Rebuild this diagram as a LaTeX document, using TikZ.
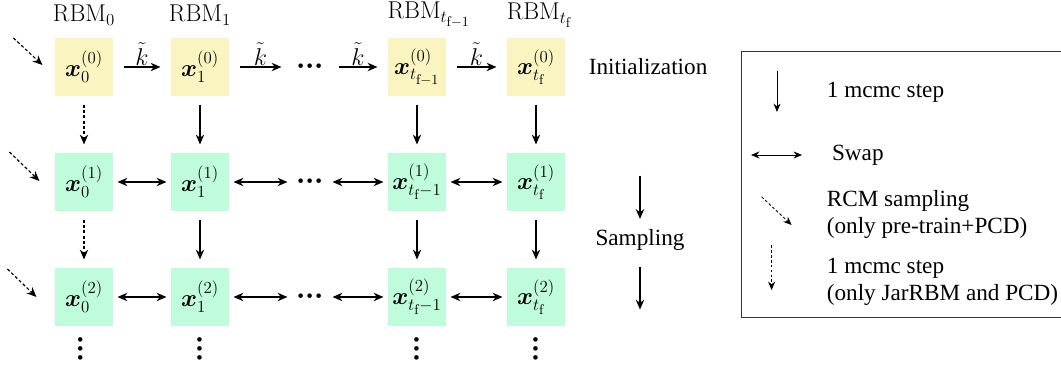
\documentclass[tikz,border=0pt]{standalone}
\usepackage{amsmath,amssymb}
\usepackage{fontspec}
\newfontfamily\legfont{Liberation Serif}
\usetikzlibrary{calc,positioning,arrows.meta}
\definecolor{initcol}{RGB}{250,245,192}
\definecolor{sampcol}{RGB}{191,252,219}
\newcommand{\rowdots}{$\boldsymbol{\mathord{\cdot}\mathord{\cdot}\mathord{\cdot}}$}
\newcommand{\colvdots}{\rotatebox{90}{\rowdots}}
\tikzset{
node distance=2.9cm, % column spacing
init/.style={fill=initcol, minimum size=1.45cm, inner sep=0pt, font=\LARGE},
samp/.style={fill=sampcol, minimum size=1.45cm, inner sep=0pt, font=\LARGE},
hdots/.style={minimum width=0.9cm, inner sep=0pt, font=\huge},
vdotsn/.style={inner sep=0pt, font=\huge},
rbm/.style={font=\LARGE},
klab/.style={above, font=\LARGE, inner sep=1pt},
txt/.style={font=\legfont\fontsize{16.5}{19}\selectfont, align=left},
}
\tikzset{
    between/.style args={#1 and #2}{
         at = ($(#1)!0.5!(#2)$)
    }
}
\tikzset{
mcmc/.style={->, shorten <=0.2cm, shorten >=0.2cm},
mcmcd/.style={mcmc, dash pattern=on 2.2pt off 1.6pt},
kstep/.style={->, shorten <=0.25cm, shorten >=0.25cm},
swap/.style={<->, shorten <=0.1cm, shorten >=0.1cm},
rcm/.style={->, dash pattern=on 2.2pt off 1.6pt},
legarr/.style={line width=0.6pt, >={Stealth[length=6pt,width=5pt]}},
}

\begin{document}
\begin{tikzpicture}[on grid, line width=0.8pt, >={Stealth[length=7pt,width=6pt]}]
   \useasboundingbox (0,0) rectangle (26.525,9.2);
   % row 0: initialization
   \node[init] (x00) at (2.1,7.525) {$\boldsymbol{x}_0^{(0)}$};
   \node[init] (x10) [right=2.9cm of x00] {$\boldsymbol{x}_1^{(0)}$};
   \node[hdots] (d0) [right=2.75cm of x10] {\rowdots};
   \node[init] (xa0) [right=2.675cm of d0] {$\boldsymbol{x}_{t_{\mathrm{f}-1}}^{(0)}$};
   \node[init] (xb0) [right=2.975cm of xa0] {$\boldsymbol{x}_{t_{\mathrm{f}}}^{(0)}$};
   % row 1
   \node[samp] (x01) [below=2.875cm of x00] {$\boldsymbol{x}_0^{(1)}$};
   \node[samp] (x11) [below=2.875cm of x10] {$\boldsymbol{x}_1^{(1)}$};
   \node[hdots] (d1) [below=2.875cm of d0] {\rowdots};
   \node[samp] (xa1) [below=2.875cm of xa0] {$\boldsymbol{x}_{t_{\mathrm{f}}-1}^{(1)}$};
   \node[samp] (xb1) [below=2.875cm of xb0] {$\boldsymbol{x}_{t_{\mathrm{f}}}^{(1)}$};
   % row 2
   \node[samp] (x02) [below=2.875cm of x01] {$\boldsymbol{x}_0^{(2)}$};
   \node[samp] (x12) [below=2.875cm of x11] {$\boldsymbol{x}_1^{(2)}$};
   \node[hdots] (d2) [below=2.875cm of d1] {\rowdots};
   \node[samp] (xa2) [below=2.875cm of xa1] {$\boldsymbol{x}_{t_{\mathrm{f}}-1}^{(2)}$};
   \node[samp] (xb2) [below=2.875cm of xb1] {$\boldsymbol{x}_{t_{\mathrm{f}}}^{(2)}$};
   % vertical dots
   \node[vdotsn] (v0) [below=1.3cm of x02, xshift=-0.08cm] {\colvdots};
   \node[vdotsn] (v1) [below=1.3cm of x12] {\colvdots};
   \node[vdotsn] (va) [below=1.3cm of xa2] {\colvdots};
   \node[vdotsn] (vb) [below=1.3cm of xb2] {\colvdots};
   % machine labels
   \node[rbm] (rbm0) [above=1.3cm of x00] {$\mathrm{RBM}_0$};
   \node[rbm] (rbm1) [above=1.3cm of x10] {$\mathrm{RBM}_1$};
   \node[rbm] (rbma) [above=1.3cm of xa0, xshift=0.3cm] {$\mathrm{RBM}_{t_{\mathrm{f}-1}}$};
   \node[rbm] (rbmb) [above=1.3cm of xb0, xshift=0.08cm] {$\mathrm{RBM}_{t_{\mathrm{f}}}$};
   % phase labels
   \node[txt, anchor=west] (init) at ([xshift=0.45cm]xb0.east) {Initialization};
   \node[txt] (sampl) [between=xb1 and xb2, xshift=2.6cm] {Sampling};
   \coordinate (st) at ([yshift=1.6cm]sampl.center);
   \coordinate (sb) at ([yshift=-1.75cm]sampl.center);

   \path
    (x00) edge[kstep] node[klab] {$\tilde{k}$} (x10)
    (x10) edge[kstep] node[klab] {$\tilde{k}$} (d0)
    (d0) edge[kstep] node[klab] {$\tilde{k}$} (xa0)
    (xa0) edge[kstep] node[klab] {$\tilde{k}$} (xb0)
    (x01) edge[swap] (x11)
    (x11) edge[swap] (d1)
    (d1) edge[swap] (xa1)
    (xa1) edge[swap] (xb1)
    (x02) edge[swap] (x12)
    (x12) edge[swap] (d2)
    (d2) edge[swap] (xa2)
    (xa2) edge[swap] (xb2)
    (x00) edge[mcmcd] (x01)
    (x01) edge[mcmcd] (x02)
    (x10) edge[mcmc] (x11)
    (x11) edge[mcmc] (x12)
    (xa0) edge[mcmc] (xa1)
    (xa1) edge[mcmc] (xa2)
    (xb0) edge[mcmc] (xb1)
    (xb1) edge[mcmc] (xb2)
    (st) edge[->, shorten >=0.12cm] (sampl)
    (sampl) edge[->, shorten <=0.3cm] (sb);

   % RCM entry arrows
   \coordinate (r0s) at ([shift={(-1.025cm,0.725cm)}]x00.west);
   \coordinate (r0e) at ([shift={(-0.3cm,0.05cm)}]x00.west);
   \coordinate (r1s) at ([shift={(-1.125cm,0.75cm)}]x01.west);
   \coordinate (r1e) at ([shift={(-0.375cm,0.025cm)}]x01.west);
   \coordinate (r2s) at ([shift={(-1.175cm,0.7cm)}]x02.west);
   \coordinate (r2e) at ([shift={(-0.45cm,0cm)}]x02.west);
   \draw[rcm] (r0s) -- (r0e);
   \draw[rcm] (r1s) -- (r1e);
   \draw[rcm] (r2s) -- (r2e);

   % legend
   \draw[line width=0.6pt, black!80] (18.525,7.925) rectangle (26.6,1.275);
   \node[txt, anchor=west] (l1) at (20.54,6.9) {1 mcmc step};
   \node[txt, anchor=west] (l2) at (20.67,5.325) {Swap};
   \node[txt, anchor=west] (l3) at (20.54,3.83) {RCM sampling\\(only pre-train+PCD)};
   \node[txt, anchor=west] (l4) at (20.54,2.16) {1 mcmc step\\(only JarRBM and PCD)};
   \coordinate (a1s) at (19.425,7.425);
   \coordinate (a1e) at (19.425,6.4);
   \coordinate (a2s) at (18.775,5.325);
   \coordinate (a2e) at (20.05,5.325);
   \coordinate (a3s) at (19.04,4.28);
   \coordinate (a3e) at (19.79,3.575);
   \coordinate (a4s) at (19.29,3.075);
   \coordinate (a4e) at (19.29,1.95);
   \draw[legarr, ->] (a1s) -- (a1e);
   \draw[legarr, <->] (a2s) -- (a2e);
   \draw[legarr, ->, dash pattern=on 2pt off 1.5pt] (a3s) -- (a3e);
   \draw[legarr, ->, dash pattern=on 2pt off 1.5pt] (a4s) -- (a4e);
\end{tikzpicture}
\end{document}
